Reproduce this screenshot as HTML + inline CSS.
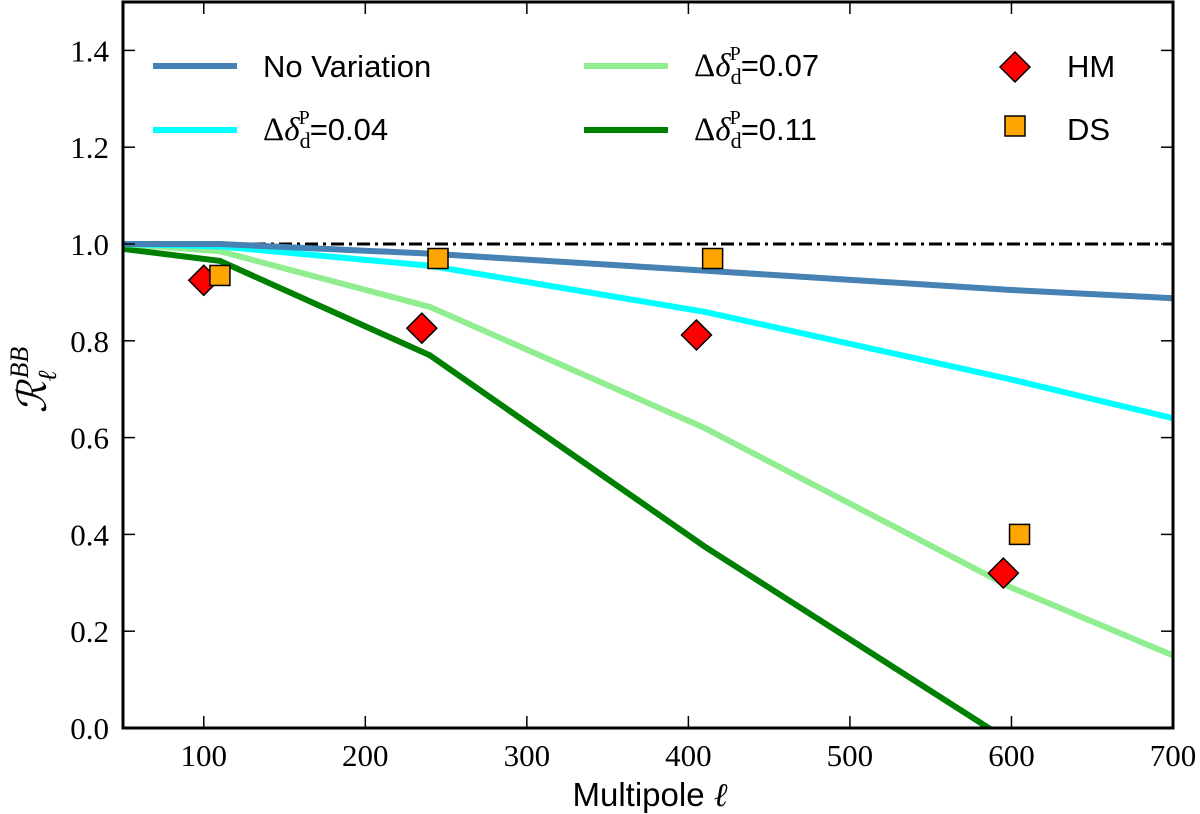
<!DOCTYPE html>
<html><head><meta charset="utf-8"><style>
body{margin:0;background:#fff;}
svg text{font-family:"Liberation Serif",serif;}
.lg{font-family:"Liberation Sans",sans-serif;font-size:31px;}
</style></head><body>
<svg id="chart" width="1200" height="814" xmlns="http://www.w3.org/2000/svg" style="position:absolute;left:0;top:0">
</svg>
<script>
const xTicks=[100,200,300,400,500,600,700];
const yTicks=[0.0,0.2,0.4,0.6,0.8,1.0,1.2,1.4];
const ells=[50,110,240,410,600,700];
const noVar=[1.0,1.0,0.98,0.945,0.905,0.888];
const d04=[1.0,0.995,0.955,0.86,0.72,0.64];
const d07=[1.0,0.985,0.87,0.62,0.29,0.15];
const d11=[0.99,0.965,0.77,0.375,-0.03,-0.2];
const hmX=[100,235,405,595];
const hmY=[0.925,0.826,0.812,0.32];
const dsX=[110,245,415,605];
const dsY=[0.935,0.97,0.97,0.4];
const L=123,R=1173,T=2,B=728;
const X=v=>L+(v-50)/650*(R-L);
const Y=v=>B-v/1.5*(B-T);
const NS="http://www.w3.org/2000/svg";
const svg=document.getElementById('chart');
function mk(t,a,p){const e=document.createElementNS(NS,t);for(const k in a)e.setAttribute(k,a[k]);(p||svg).appendChild(e);return e;}
const defs=mk('defs',{});const cp=mk('clipPath',{id:'c'},defs);mk('rect',{x:L,y:T,width:R-L,height:B-T},cp);
const g=mk('g',{'clip-path':'url(#c)'});
let e=mk('line',{x1:L,x2:R,y1:Y(1),y2:Y(1),stroke:'#000','stroke-width':3,'stroke-dasharray':'13,5,3,5'},g);


function series(arr,col,name){const pts=ells.map((l,i)=>X(l)+','+Y(arr[i])).join(' ');
const p=mk('polyline',{points:pts,fill:'none',stroke:col,'stroke-width':6},g);

}
series(d11,'#008000','line-delta-0-11');
series(d07,'#90ee90','line-delta-0-07');
series(d04,'#00ffff','line-delta-0-04');
series(noVar,'#4682b4','line-no-variation');
hmX.forEach((x,i)=>{const cx=X(x),cy=Y(hmY[i]);
const m=mk('polygon',{points:`${cx},${cy-15} ${cx+15},${cy} ${cx},${cy+15} ${cx-15},${cy}`,fill:'#ff0000',stroke:'#000','stroke-width':1.5});

});
dsX.forEach((x,i)=>{const cx=X(x),cy=Y(dsY[i]);
const m=mk('rect',{x:cx-10,y:cy-10,width:20,height:20,fill:'#ffa500',stroke:'#000','stroke-width':1.5});

});
const fr=mk('rect',{x:L,y:T,width:R-L,height:B-T,fill:'none',stroke:'#000','stroke-width':3});


xTicks.forEach(v=>{const x=X(v);
mk('line',{x1:x,x2:x,y1:B,y2:B-12,stroke:'#000','stroke-width':1.5});
mk('line',{x1:x,x2:x,y1:T,y2:T+12,stroke:'#000','stroke-width':1.5});
const t=mk('text',{x:x,y:B+38,'text-anchor':'middle','font-size':31});t.textContent=v;

});
yTicks.forEach(v=>{const y=Y(v);
mk('line',{x1:L,x2:L+12,y1:y,y2:y,stroke:'#000','stroke-width':1.5});
mk('line',{x1:R,x2:R-12,y1:y,y2:y,stroke:'#000','stroke-width':1.5});
const t=mk('text',{x:L-14,y:y+11,'text-anchor':'end','font-size':31});t.textContent=v.toFixed(1);

});
</script>
<svg style="position:absolute;left:0;top:0" width="1200" height="814">
<text x="650" y="806" text-anchor="middle" class="lg" font-size="33" style="font-size:33px">Multipole <tspan font-family="Liberation Serif" font-style="italic">ℓ</tspan></text>
<text transform="translate(46,380) rotate(-90)" text-anchor="middle" font-size="40" font-style="italic">ℛ<tspan font-size="26" dy="10">ℓ</tspan><tspan font-size="26" dy="-28" dx="-8">BB</tspan></text>
<g>
<line x1="153" x2="237" y1="66" y2="66" stroke="#4682b4" stroke-width="6"/><text x="263" y="77" class="lg">No Variation</text>
<line x1="153" x2="237" y1="130" y2="130" stroke="#00ffff" stroke-width="6"/><text x="263" y="140" class="lg"><tspan font-family="Liberation Serif" font-size="33">Δ<tspan font-style="italic">δ</tspan><tspan font-size="22" dy="8">d</tspan><tspan font-size="20" dy="-24" dx="-12">P</tspan></tspan><tspan dy="16">=0.04</tspan></text>
<line x1="584" x2="668" y1="66" y2="66" stroke="#90ee90" stroke-width="6"/><text x="694" y="76" class="lg"><tspan font-family="Liberation Serif" font-size="33">Δ<tspan font-style="italic">δ</tspan><tspan font-size="22" dy="8">d</tspan><tspan font-size="20" dy="-24" dx="-12">P</tspan></tspan><tspan dy="16">=0.07</tspan></text>
<line x1="584" x2="668" y1="130" y2="130" stroke="#008000" stroke-width="6"/><text x="694" y="140" class="lg"><tspan font-family="Liberation Serif" font-size="33">Δ<tspan font-style="italic">δ</tspan><tspan font-size="22" dy="8">d</tspan><tspan font-size="20" dy="-24" dx="-12">P</tspan></tspan><tspan dy="16">=0.11</tspan></text>
<polygon points="1015,52 1030,67 1015,82 1000,67" fill="#ff0000" stroke="#000" stroke-width="1.5"/><text x="1067" y="77" class="lg">HM</text>
<rect x="1005" y="116" width="20" height="20" fill="#ffa500" stroke="#000" stroke-width="1.5"/><text x="1067" y="140" class="lg">DS</text>
</g>
</svg>
</body></html>
